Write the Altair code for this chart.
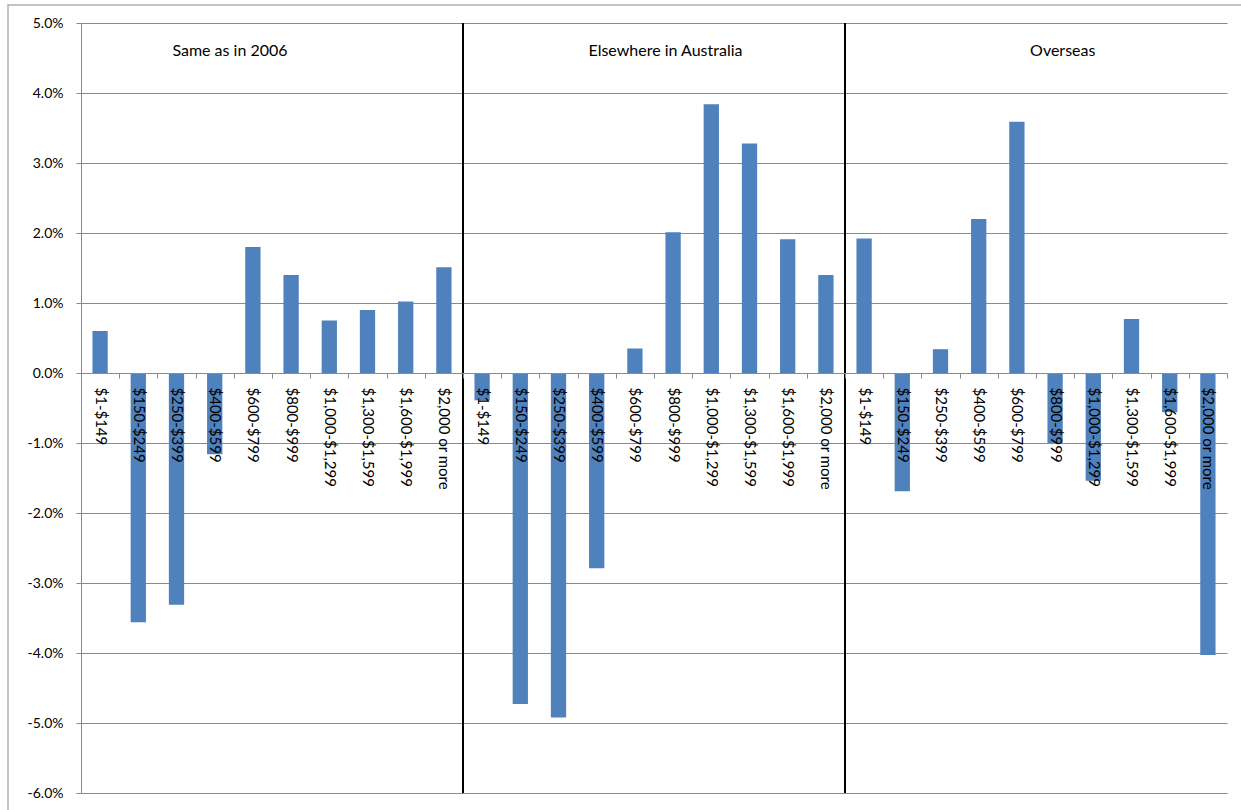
import altair as alt
import pandas as pd

# ---- data -------------------------------------------------------------
groups = ["Same as in 2006", "Elsewhere in Australia", "Overseas"]
brackets = ["$1-$149", "$150-$249", "$250-$399", "$400-$599", "$600-$799",
            "$800-$999", "$1,000-$1,299", "$1,300-$1,599", "$1,600-$1,999",
            "$2,000 or more"]
same_2006 = [0.60, -3.56, -3.31, -1.16, 1.80, 1.40, 0.75, 0.90, 1.02, 1.51]
elsewhere_aus = [-0.39, -4.73, -4.92, -2.79, 0.35, 2.01, 3.84, 3.28, 1.91, 1.40]
overseas = [1.92, -1.69, 0.34, 2.20, 3.59, -1.00, -1.54, 0.77, -0.56, -4.03]
y_ticks = [-6, -5, -4, -3, -2, -1, 0, 1, 2, 3, 4, 5]

# title anchors: category index within chart and fractional band position
title_anchor_idx = [3, 15, 25]
title_anchor_band = [0.9, 0.3, 0.7]
title_level = 4.6

series = [same_2006, elsewhere_aus, overseas]
rows = []
keys = []
for gi, (g, vals) in enumerate(zip(groups, series)):
    for b, v in zip(brackets, vals):
        k = f"{gi}|{b}"
        keys.append(k)
        rows.append({"key": k, "group": g, "bracket": b, "value": v})
df = pd.DataFrame(rows)

sep_df = pd.DataFrame({"key": [keys[10], keys[20]]})

W, H = 1146, 770
FONT = "Lato"
GRID = "#8a8a8a"

xscale = alt.Scale(paddingInner=0, paddingOuter=0)
yscale = alt.Scale(domain=[-6, 5], nice=False, zero=False)

bars = alt.Chart(df).mark_bar(color="#4F81BD", width=alt.RelativeBandSize(0.4)).encode(
    x=alt.X("key:N", sort=keys, scale=xscale,
            axis=alt.Axis(orient="bottom", offset=-420, title=None,
                          labelExpr="split(datum.label, '|')[1]",
                          labelAngle=90, labelFontSize=15, labelFont=FONT,
                          labelColor="#000000", labelPadding=9,
                          tickBand="extent", tickSize=5, tickColor=GRID,
                          domainColor=GRID, domainWidth=1, grid=False,
                          zindex=1, labelOverlap=False)),
    y=alt.Y("value:Q", scale=yscale,
            axis=alt.Axis(values=y_ticks, title=None,
                          labelExpr="datum.value + '.0%'",
                          labelFontSize=14, labelFont=FONT, labelColor="#000000",
                          labelPadding=13, tickSize=5, tickColor=GRID,
                          domainColor=GRID, gridColor=GRID, gridWidth=1,
                          gridOpacity=1, labelOverlap=False)),
)

seps = alt.Chart(sep_df).mark_rule(color="#000000", strokeWidth=2).encode(
    x=alt.X("key:N", sort=keys, bandPosition=0),
    y=alt.value(0),
    y2=alt.value(H),
)

title_layers = []
for g, idx, bp in zip(groups, title_anchor_idx, title_anchor_band):
    tdf = pd.DataFrame({"key": [keys[idx]], "title": [g], "y": [title_level]})
    title_layers.append(
        alt.Chart(tdf).mark_text(
            font=FONT, fontSize=16, color="#000000", baseline="middle", align="center"
        ).encode(
            x=alt.X("key:N", sort=keys, bandPosition=bp),
            y=alt.Y("y:Q"),
            text="title:N",
        )
    )

frame = alt.Chart(pd.DataFrame({"a": [0]})).mark_rect(
    fill=None, stroke="#b0b0b0", strokeWidth=1.5
).encode(
    x=alt.value(-73), y=alt.value(-18), x2=alt.value(W + 200), y2=alt.value(H + 200)
)

chart = alt.layer(bars, seps, *title_layers, frame).properties(
    width=W, height=H,
    autosize=alt.AutoSizeParams(type="none"),
    padding={"left": 81, "top": 23, "right": 14, "bottom": 17},
    background="white",
).configure_view(stroke=None)

chart.save("out.html", embed_options={"renderer": "svg", "actions": False})
